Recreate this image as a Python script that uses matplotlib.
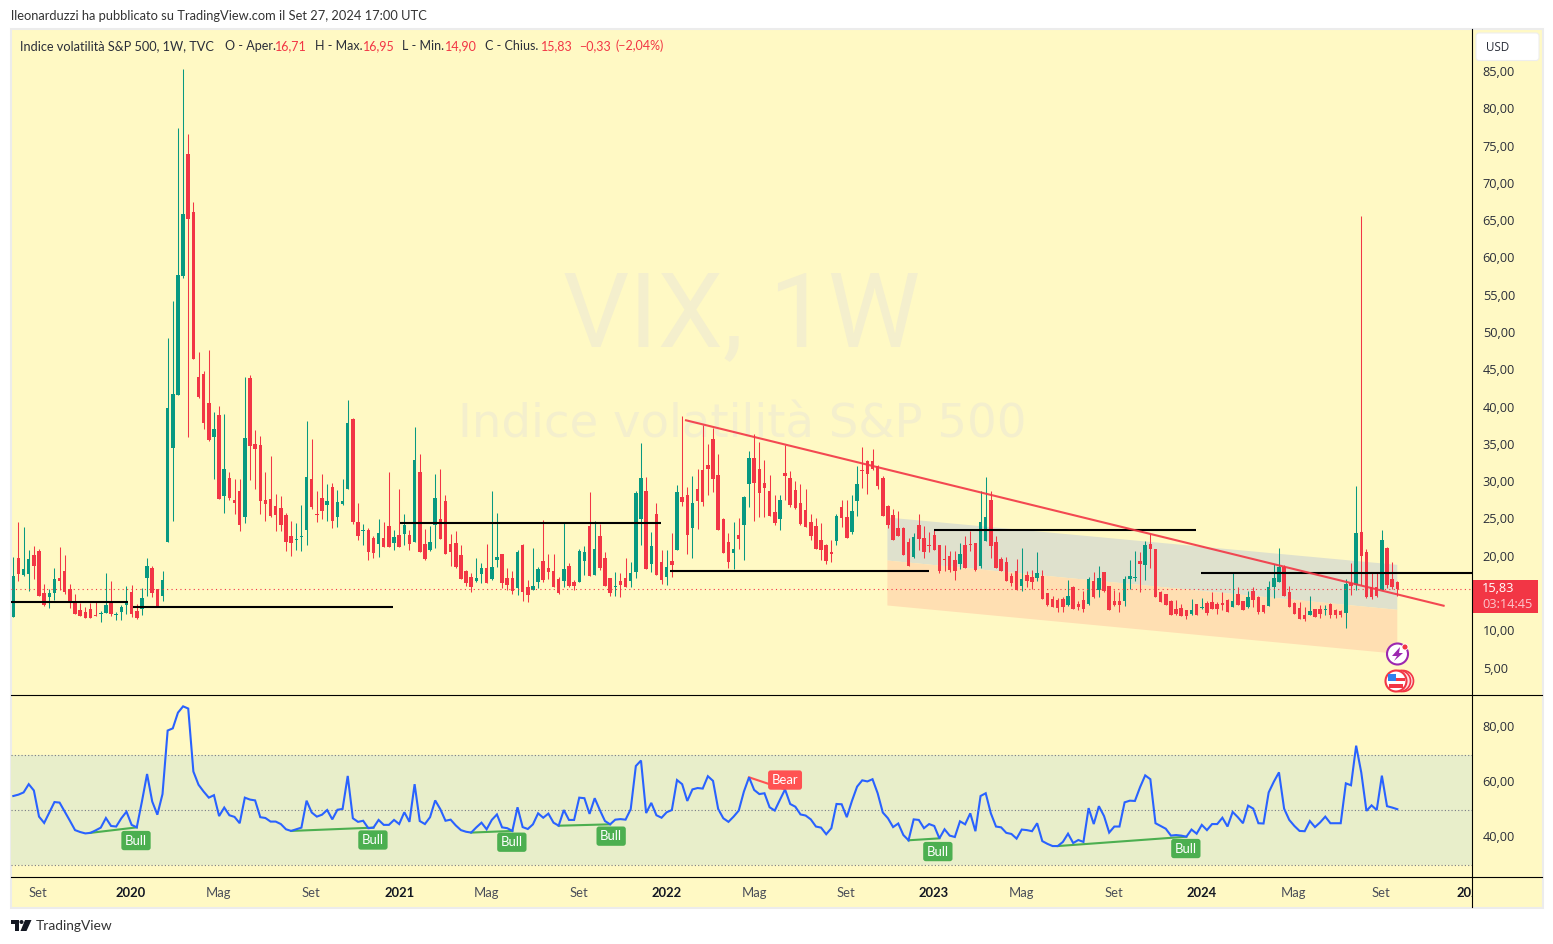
"""VIX weekly chart with RSI pane, TradingView look
values read off the screenshot, axes placed in pixels so it lines up
"""

import numpy as np
import matplotlib
matplotlib.use("Agg")
import matplotlib.pyplot as plt
from matplotlib.patches import Rectangle, Circle, Polygon, FancyBboxPatch
from matplotlib.transforms import ScaledTranslation

W, H = 1553, 944
BG = "#fff9c4"
GREEN = "#089981"
RED = "#f23645"
TXT = "#2a2e39"

plt.rcParams["font.family"] = ["Lato", "DejaVu Sans"]

# weekly candles, oldest first
opens = [11.96, 19.82, 17.54, 17.68, 20.23, 20.76, 15.13, 14.59, 15.13, 17.14,
         18.08, 15.66, 14.06, 12.85, 12.58, 12.98, 12.18, 12.35, 12.45, 14.06,
         12.22, 12.58, 13.52, 15.26, 12.71, 12.98, 17.14, 18.48, 15.66, 14.73,
         21.92, 34.62, 41.68, 57.64, 74.0, 66.23, 44.1, 44.5, 40.61, 36.05,
         38.98, 28.14, 30.55, 27.6, 28.81, 25.32, 43.96, 35.11, 34.98, 27.6,
         27.74, 26.8, 26.53, 25.59, 22.77, 22.24, 22.64, 23.58, 30.42, 25.72,
         27.87, 26.93, 29.35, 25.32, 27.07, 29.08, 38.46, 24.65, 23.45, 23.58,
         22.5, 21.7, 22.5, 24.12, 21.84, 22.91, 23.04, 22.91, 21.97, 31.36,
         21.7, 20.9, 24.25, 25.05, 27.47, 21.7, 21.84, 20.23, 18.08, 17.27,
         16.74, 17.68, 18.48, 17.01, 19.55, 20.36, 17.14, 17.14, 15.8, 21.57,
         15.93, 15.53, 16.6, 19.42, 18.48, 18.08, 17.0, 16.74, 18.75, 16.6,
         16.6, 19.42, 24.11, 17.54, 22.77, 19.82, 17.14, 15.93, 16.74, 17.14,
         16.74, 17.95, 25.05, 28.81, 19.02, 25.72, 19.29, 17.27, 19.42, 20.9,
         28.0, 28.27, 23.85, 29.08, 31.62, 32.29, 35.78, 30.95, 25.05, 21.97,
         20.49, 22.91, 24.25, 29.75, 33.23, 31.76, 29.88, 28.81, 25.99, 25.05,
         31.22, 30.55, 28.94, 27.2, 26.26, 24.65, 24.11, 22.24, 21.57, 20.63,
         22.1, 26.66, 25.32, 23.31, 27.47, 31.62, 32.83, 32.83, 32.16, 30.55,
         26.8, 25.59, 23.85, 23.85, 21.97, 19.96, 24.25, 22.5, 21.57, 22.91,
         21.57, 19.69, 20.09, 19.56, 19.02, 21.57, 21.7, 21.84, 18.75, 22.1,
         27.6, 21.97, 19.69, 19.28, 17.4, 18.08, 16.06, 17.54, 17.27, 17.14,
         17.4, 15.13, 14.32, 14.19, 14.32, 13.52, 15.93, 13.65, 14.19, 13.65,
         16.73, 15.53, 17.94, 16.06, 14.05, 14.05, 14.05, 17.0, 17.14, 19.42,
         18.88, 21.7, 21.03, 15.26, 14.99, 14.05, 12.98, 13.11, 12.85, 12.31,
         13.65, 13.11, 13.79, 13.92, 13.65, 13.79, 14.19, 13.25, 14.99, 14.05,
         13.25, 15.39, 14.59, 13.52, 13.38, 15.93, 16.6, 18.61, 15.26, 13.79,
         13.11, 12.18, 12.18, 12.98, 12.98, 12.85, 13.65, 12.85, 12.71, 12.44,
         16.46, 16.2, 23.3, 20.62, 15.93, 15.93, 15.53, 21.16, 17.0, 16.6]
highs = [19.96, 24.65, 23.98, 20.9, 21.43, 21.03, 16.34, 15.66, 18.48, 21.3,
         20.23, 16.34, 15.0, 13.79, 13.25, 13.79, 14.06, 12.71, 17.81, 16.74,
         12.58, 13.52, 16.07, 16.2, 13.65, 15.8, 19.82, 18.75, 15.66, 18.08,
         49.33, 54.29, 77.49, 85.4, 76.69, 67.57, 47.45, 44.9, 47.72, 39.4,
         40.21, 39.14, 31.36, 30.42, 30.42, 44.1, 44.37, 36.99, 36.19, 31.36,
         33.5, 28.41, 28.14, 25.86, 24.79, 24.52, 26.93, 38.2, 35.78, 28.81,
         31.09, 29.75, 29.88, 28.94, 30.42, 41.0, 38.6, 27.2, 24.38, 23.85,
         22.77, 25.05, 24.65, 31.36, 23.58, 29.08, 25.72, 23.58, 37.39, 33.77,
         23.72, 24.12, 31.09, 31.76, 28.27, 23.04, 23.45, 21.57, 18.21, 17.81,
         19.82, 19.15, 21.7, 28.81, 25.86, 20.36, 18.48, 18.03, 20.9, 21.7,
         16.87, 21.16, 18.62, 24.87, 20.36, 20.36, 17.27, 24.65, 19.15, 16.87,
         21.03, 21.43, 28.67, 24.78, 24.38, 20.63, 17.14, 17.95, 17.81, 19.82,
         19.29, 28.81, 35.24, 30.69, 23.31, 27.2, 20.9, 20.9, 23.17, 29.61,
         38.87, 29.34, 30.82, 31.76, 37.66, 35.11, 37.26, 33.77, 25.19, 23.17,
         24.65, 25.19, 28.14, 34.17, 36.45, 35.38, 32.96, 30.95, 28.27, 28.27,
         34.98, 31.49, 30.15, 29.75, 29.07, 25.72, 25.19, 24.52, 21.7, 22.24,
         25.72, 27.6, 27.6, 28.27, 32.16, 34.71, 32.96, 34.44, 32.29, 30.82,
         26.93, 26.39, 26.13, 23.98, 22.5, 23.18, 25.72, 24.11, 23.31, 23.58,
         21.57, 21.57, 20.76, 20.76, 21.84, 22.77, 23.44, 21.84, 28.8, 30.69,
         28.8, 22.77, 19.91, 19.91, 17.81, 19.64, 21.16, 18.08, 18.21, 20.62,
         18.21, 15.13, 14.72, 14.46, 14.59, 16.87, 16.06, 14.05, 15.39, 17.27,
         17.94, 18.75, 17.94, 16.06, 15.53, 15.26, 17.4, 19.55, 20.76, 20.62,
         22.1, 23.04, 21.03, 15.39, 14.99, 14.19, 14.19, 13.65, 12.85, 14.32,
         13.65, 14.46, 14.05, 15.26, 13.92, 15.26, 14.32, 17.81, 15.93, 14.05,
         15.39, 15.93, 14.72, 13.52, 16.73, 19.01, 21.16, 18.88, 16.06, 13.92,
         13.92, 13.25, 14.72, 12.98, 13.52, 13.52, 13.79, 12.98, 12.85, 17.0,
         19.15, 29.47, 65.7, 21.03, 17.94, 17.81, 23.57, 21.3, 19.28, 16.75]
lows = [11.96, 16.78, 17.41, 15.4, 17.01, 14.73, 13.39, 13.12, 14.19, 15.53,
        15.0, 13.12, 12.31, 12.05, 11.78, 11.78, 12.05, 11.24, 12.45, 12.05,
        11.51, 11.51, 12.31, 11.91, 11.64, 12.18, 14.73, 14.59, 13.25, 14.06,
        21.9, 24.79, 41.68, 57.37, 36.05, 46.51, 41.28, 37.12, 35.52, 30.42,
        27.74, 25.86, 27.6, 25.73, 23.45, 24.52, 30.28, 29.08, 25.73, 24.79,
        25.32, 23.45, 23.45, 20.76, 20.09, 20.9, 20.76, 21.57, 26.39, 24.65,
        25.05, 24.79, 23.85, 23.98, 26.93, 29.08, 24.38, 22.24, 21.57, 19.56,
        19.83, 19.96, 21.3, 21.3, 20.9, 21.3, 21.57, 20.9, 21.97, 20.63,
        19.56, 20.76, 21.16, 22.37, 20.36, 18.75, 18.48, 17.01, 16.07, 15.26,
        16.6, 16.47, 16.47, 16.87, 18.62, 15.8, 15.53, 15.0, 14.86, 14.06,
        13.92, 15.53, 15.8, 16.6, 17.0, 15.93, 15.0, 15.93, 15.93, 15.53,
        16.6, 17.54, 17.41, 17.54, 18.21, 16.07, 14.73, 14.73, 14.59, 15.93,
        15.93, 17.14, 21.57, 18.35, 17.95, 17.54, 16.34, 16.2, 17.27, 20.9,
        26.8, 20.36, 19.82, 23.71, 26.8, 28.27, 28.67, 23.58, 20.49, 18.48,
        18.35, 21.03, 19.55, 26.66, 24.78, 25.37, 25.32, 25.46, 24.25, 23.58,
        27.6, 26.66, 26.39, 24.25, 23.98, 22.24, 21.03, 19.55, 19.02, 19.29,
        21.57, 23.98, 22.5, 23.04, 25.46, 29.21, 28.4, 31.62, 29.08, 25.46,
        23.85, 22.24, 22.77, 20.22, 18.75, 19.82, 20.9, 19.82, 20.63, 20.9,
        17.81, 18.08, 17.94, 16.87, 18.35, 18.48, 20.76, 18.08, 18.48, 22.1,
        19.82, 18.48, 18.08, 16.73, 16.06, 15.53, 15.39, 15.97, 15.66, 16.73,
        14.32, 13.38, 13.25, 12.58, 12.58, 13.38, 12.98, 12.85, 12.58, 13.52,
        14.46, 14.59, 15.26, 12.85, 13.38, 12.58, 13.38, 15.66, 16.73, 15.26,
        16.87, 18.48, 14.59, 13.92, 13.52, 12.18, 12.18, 12.04, 11.64, 12.18,
        12.18, 12.98, 12.18, 12.98, 12.31, 12.85, 12.58, 13.25, 13.52, 12.85,
        13.11, 13.25, 12.31, 12.44, 13.38, 14.46, 16.6, 14.72, 13.25, 12.31,
        11.64, 11.37, 12.18, 11.91, 11.77, 12.18, 11.77, 11.77, 11.91, 10.43,
        14.86, 15.53, 16.2, 14.46, 14.32, 14.59, 15.53, 15.8, 15.66, 14.75]
closes = [17.41, 17.68, 18.35, 19.69, 18.75, 14.73, 13.52, 15.13, 17.01, 16.74,
          15.26, 13.79, 12.31, 12.05, 11.78, 11.78, 12.05, 12.49, 13.52, 12.31,
          12.36, 13.25, 13.92, 12.31, 11.78, 14.46, 18.75, 15.13, 13.25, 16.87,
          39.94, 41.82, 57.78, 65.96, 65.29, 46.51, 41.42, 37.93, 35.65, 37.12,
          27.74, 31.76, 27.87, 27.2, 24.25, 35.92, 34.84, 34.44, 27.47, 27.07,
          25.46, 25.59, 24.25, 21.97, 21.84, 22.37, 22.77, 30.69, 26.66, 25.59,
          26.13, 27.47, 24.79, 27.33, 27.47, 37.93, 24.65, 22.77, 23.58, 20.63,
          20.5, 23.18, 21.3, 21.3, 22.64, 21.3, 24.25, 21.7, 32.97, 20.63,
          19.69, 21.97, 27.87, 22.37, 20.36, 20.63, 18.62, 17.01, 16.47, 15.93,
          17.14, 18.48, 16.47, 18.62, 19.96, 16.47, 16.2, 15.4, 20.63, 15.26,
          14.86, 16.07, 18.35, 16.87, 17.95, 15.93, 15.13, 18.35, 16.07, 16.07,
          20.76, 20.63, 17.41, 21.03, 18.48, 16.07, 15.13, 16.07, 16.2, 15.93,
          17.81, 28.54, 30.55, 18.35, 21.43, 17.54, 16.87, 18.62, 18.88, 28.67,
          27.33, 22.91, 27.2, 27.47, 27.33, 31.76, 30.42, 23.58, 20.49, 19.29,
          21.03, 22.37, 28.0, 33.23, 29.88, 28.54, 29.21, 25.46, 24.52, 27.6,
          30.82, 26.93, 26.53, 24.38, 23.98, 22.77, 21.03, 20.9, 19.42, 20.4,
          25.46, 25.19, 22.5, 26.13, 29.75, 31.49, 31.09, 31.76, 29.48, 25.46,
          24.25, 22.24, 22.77, 20.22, 18.75, 22.64, 22.37, 20.63, 21.43, 20.9,
          18.08, 19.56, 18.21, 18.08, 20.36, 18.48, 21.57, 18.21, 24.65, 25.32,
          21.43, 18.48, 18.08, 16.73, 16.46, 15.53, 17.0, 16.73, 16.6, 17.81,
          14.32, 13.52, 13.25, 13.11, 13.25, 14.72, 12.98, 13.25, 12.98, 17.0,
          14.59, 17.14, 15.39, 12.85, 13.52, 13.52, 17.0, 17.4, 17.27, 19.01,
          21.56, 21.03, 14.59, 13.92, 13.52, 12.18, 12.31, 12.04, 12.04, 12.85,
          12.18, 13.25, 12.44, 12.98, 12.98, 13.52, 12.58, 14.05, 13.52, 12.85,
          14.59, 14.19, 12.58, 12.58, 15.93, 17.14, 18.61, 14.72, 13.25, 12.31,
          11.64, 11.64, 12.71, 11.91, 12.31, 12.98, 12.18, 12.18, 12.18, 16.33,
          16.06, 23.17, 20.09, 14.59, 14.59, 14.72, 22.23, 16.2, 15.93, 15.62]

# RSI, same weeks as the candles
rsi = [55.2, 55.7, 56.5, 59.5, 57.2, 47.7, 45.4, 49.2, 53.0, 52.8,
       49.5, 46.2, 42.8, 42.1, 41.6, 41.8, 42.7, 43.7, 47.2, 44.3,
       44.1, 47.1, 49.5, 44.7, 43.8, 53.2, 63.2, 53.2, 48.4, 55.9,
       79.0, 79.8, 85.5, 87.8, 87.0, 64.1, 59.3, 56.8, 54.6, 55.5,
       47.9, 51.0, 48.2, 47.6, 45.3, 54.6, 53.9, 53.6, 47.5, 47.2,
       45.9, 45.9, 45.0, 43.1, 42.5, 43.1, 43.7, 53.5, 49.2, 47.7,
       48.4, 50.1, 46.7, 50.2, 50.5, 62.5, 47.1, 45.8, 46.2, 43.5,
       43.7, 46.5, 44.7, 44.7, 46.5, 45.0, 49.3, 45.8, 59.5, 46.1,
       45.0, 47.5, 53.6, 50.4, 46.2, 46.6, 44.5, 42.8, 42.2, 41.9,
       43.8, 45.5, 43.1, 46.5, 48.5, 43.8, 43.5, 42.5, 51.1, 43.9,
       43.2, 44.9, 48.9, 47.3, 48.8, 45.5, 44.4, 50.1, 46.5, 46.5,
       54.6, 54.4, 48.7, 54.4, 50.1, 46.1, 44.9, 46.6, 46.8, 46.6,
       50.4, 66.1, 68.1, 49.0, 52.7, 48.2, 47.3, 49.3, 50.1, 61.0,
       59.5, 53.4, 57.6, 58.1, 57.9, 62.4, 60.7, 50.5, 47.1, 45.8,
       47.7, 49.9, 56.8, 62.0, 57.4,
       55.9, 56.2, 51.1, 49.9, 53.8, 57.6, 52.3, 51.3, 48.5, 48.1,
       46.7, 44.1, 43.7, 41.3, 43.5, 52.3, 52.2, 47.5, 53.4, 58.6,
       60.9, 60.5, 61.3, 56.2, 49.2, 47.1, 43.9, 45.2, 41.0, 39.1,
       46.7, 46.5, 43.5, 45.0, 44.3, 39.8, 43.1, 40.8, 40.3, 46.0,
       44.9, 48.9, 42.4, 55.2, 56.2, 48.9, 44.1, 43.8, 41.8, 41.4,
       39.7, 43.0, 42.8, 42.4, 45.3, 38.8, 37.8, 37.0, 37.0, 38.5,
       41.5, 38.1, 39.2, 38.5, 50.8, 45.0, 51.5, 47.9, 41.9, 44.1,
       44.1, 52.9, 53.5, 53.4, 58.4, 62.7, 61.3, 45.3, 44.3, 43.3,
       40.8, 41.0, 40.8, 40.4, 43.0, 41.5, 44.7, 42.8, 45.0, 45.0,
       47.3, 44.1, 49.4, 47.5, 45.3, 51.7, 50.6, 45.3, 45.2, 56.5,
       60.4, 63.8, 50.6, 46.5, 44.3, 42.5, 42.4, 46.1, 43.9, 45.6,
       47.7, 45.3, 45.3, 45.3, 59.8, 59.1, 73.5, 63.7, 49.8, 51.8,
       50.1, 62.6, 51.5, 51.0, 50.4]

price_ticks = [5, 10, 20, 25, 30, 35, 40, 45, 50, 55, 60, 65, 70, 75, 80, 85]
rsi_ticks = [40, 60, 80]
time_pos = [4.8, 22.9, 39.8, 57.9, 75, 91.9, 110, 126.9, 144, 161.9, 178.9, 195.9,
            213.9, 231, 248.9, 265.9, 283.5]
time_lab = ["Set", "2020", "Mag", "Set", "2021", "Mag", "Set", "2022", "Mag", "Set",
            "2023", "Mag", "Set", "2024", "Mag", "Set", "2025"]

# drawn objects: (week start, week end, price)
black_lines = [(-0.4, 22.2, 13.96), (23.3, 73.8, 13.25), (75.2, 125.9, 24.5),
               (127.6, 178, 18.08), (179, 229.9, 23.58), (230.8, 283.6, 17.81)]
trend_x = [130.75, 278.0]
trend_y = [38.29, 13.42]
chan_x = [169.8, 268.9]
chan_top = [25.32, 18.97]
chan_mid = [19.55, 12.94]
chan_bot = [13.52, 7.04]
last_price = 15.62

# RSI divergences: from week, to week, tag week, tag value
bull_tags = [(15, 24, 23.85, 39.0), (54, 70, 69.9, 39.2), (89, 97, 96.9, 38.4),
             (106, 116, 116.2, 40.6), (174, 180, 179.7, 35.0), (203, 228, 227.9, 36.1)]
bear_tag = (143, 150, 150.0, 61.0)


def pane(x0, y0, x1, y1):
    # axes from pixel box, y from the top of the picture
    return fig.add_axes([x0 / W, 1 - y1 / H, (x1 - x0) / W, (y1 - y0) / H])


def lift_labels(a, px):
    # tradingview draws the axis numbers a bit above their level
    off = ScaledTranslation(0, px / 100, fig.dpi_scale_trans)
    for t in a.yaxis.get_major_ticks():
        t.label2.set_transform(t.label2.get_transform() + off)


fig = plt.figure(figsize=(W / 100, H / 100), dpi=100, facecolor="white")

back = pane(0, 0, W, H)
back.set_xlim(0, W)
back.set_ylim(H, 0)
back.axis("off")
back.add_patch(Rectangle((10.5, 28.5), 1532, 879, fc=BG, ec="#ececec", lw=1.5))

ax = pane(11, 29, 1473, 695)
ax2 = pane(11, 696, 1473, 877)
ax3 = pane(11, 877, 1473, 907)
xlim = ((11 - 13.3) / 5.145, (1473 - 13.3) / 5.145)
for a in (ax, ax2, ax3):
    a.set_facecolor("none")
    a.set_xlim(*xlim)
    for s in a.spines.values():
        s.set_visible(False)
    a.set_xticks([])
ax.set_ylim(1.446, 90.77)
ax2.set_ylim(25.75, 91.56)
ax3.set_ylim(0, 1)
ax3.set_yticks([])

# price pane
x = np.arange(len(opens))
o, h, l, c = map(np.array, (opens, highs, lows, closes))
cols = np.where(c >= o, GREEN, RED)
ax.text(0.5, 0.566, "VIX, 1W", transform=ax.transAxes, ha="center", va="center",
        fontsize=75, color="#f4efcd", family="Roboto", zorder=1)
ax.text(0.5, 0.405, "Indice volatilità S&P 500", transform=ax.transAxes, ha="center", va="center",
        fontsize=33.5, color="#f4efcd", family="DejaVu Sans", zorder=1)
ax.fill_between(chan_x, chan_mid, chan_top, color="#dfe1cd", lw=0, zorder=2)
ax.fill_between(chan_x, chan_bot, chan_mid, color="#ffdfb2", lw=0, zorder=2)
ax.vlines(x, l, h, colors=cols, lw=0.75, zorder=3)
body = np.maximum(np.abs(c - o), 0.13)
ax.bar(x, body, bottom=np.minimum(o, c), width=0.68, color=cols, lw=0, zorder=3)
ax.axhline(last_price, color=RED, lw=0.8, ls=(0, (1, 3)), zorder=4)
for x0, x1, y in black_lines:
    ax.plot([x0, x1], [y, y], color="black", lw=1.5, solid_capstyle="butt", zorder=5)
ax.plot(trend_x, trend_y, color=RED, lw=1.5, alpha=0.9, zorder=6)
ax.yaxis.tick_right()
ax.set_yticks(price_ticks)
ax.set_yticklabels([f"{t},00" for t in price_ticks], family="Open Sans")
ax.tick_params(axis="y", length=0, pad=7, labelsize=9.2, labelcolor=TXT)
lift_labels(ax, 1)

# rsi pane
ax2.axhspan(30, 70, color="#e8eeca", lw=0, zorder=1)
for lev in (30, 50, 70):
    ax2.axhline(lev, color="#787b86", lw=0.8, ls=(0, (1, 2)), zorder=2)
ax2.plot(x, rsi, color="#2962ff", lw=1.5, zorder=4, solid_joinstyle="miter")
for i0, i1, tx, ty in bull_tags:
    ax2.plot([i0, i1], [rsi[i0], rsi[i1]], color="#4caf50", lw=1.5, zorder=3)
    ax2.text(tx, ty, "Bull", color="white", fontsize=9.4, ha="center", va="center", zorder=6,
             bbox=dict(boxstyle="round,pad=0.28,rounding_size=0.2", fc="#4caf50", ec="none"))
ax2.plot([bear_tag[0], bear_tag[1]], [rsi[bear_tag[0]], rsi[bear_tag[1]]], color="#ff5252", lw=1.5, zorder=3)
ax2.text(bear_tag[2], bear_tag[3], "Bear", color="white", fontsize=9.4, ha="center", va="center", zorder=6,
         bbox=dict(boxstyle="round,pad=0.28,rounding_size=0.2", fc="#ff5252", ec="none"))
ax2.yaxis.tick_right()
ax2.set_yticks(rsi_ticks)
ax2.set_yticklabels([f"{t},00" for t in rsi_ticks], family="Open Sans")
ax2.tick_params(axis="y", length=0, pad=7, labelsize=9.2, labelcolor=TXT)
lift_labels(ax2, 2)

# time axis
for p, lab in zip(time_pos, time_lab):
    year = lab.isdigit()
    ax3.text(p, 0.47, lab, ha="center", va="center", fontsize=9.4, clip_on=True,
             color="#131722" if year else "#4a4e59", fontweight="bold" if year else "normal")

# everything that sits on top, in picture pixels
deco = pane(0, 0, W, H)
deco.set_xlim(0, W)
deco.set_ylim(H, 0)
deco.axis("off")

for y in (695.0, 877.0):
    deco.plot([11, 1542], [y, y], color="black", lw=0.8, zorder=9)
deco.plot([1472.3, 1472.3], [29, 907], color="black", lw=0.8, zorder=9)

# header
deco.text(11, 16, "lleonarduzzi ha pubblicato su TradingView.com il Set 27, 2024 17:00 UTC",
          fontsize=9.3, color="#333333", va="center")
head = [(20, "Indice volatilità S&P 500, 1W, TVC", TXT, 9.2), (225, "O - Aper.", TXT, 9), (275, "16,71", RED, 9),
        (315, "H - Max.", TXT, 9), (363, "16,95", RED, 9), (402, "L - Min.", TXT, 9), (445, "14,90", RED, 9),
        (485, "C - Chius.", TXT, 9), (541, "15,83", RED, 9), (579, "−0,33", RED, 9), (616, "(−2,04%)", RED, 9)]
for hx, s, col, fs in head:
    deco.text(hx, 46, s, fontsize=fs, color=col, va="center")

# usd box and price tag
deco.add_patch(FancyBboxPatch((1476, 33), 63, 27.5, boxstyle="round,pad=0,rounding_size=3", fc="white", ec="#eeeeee", lw=0.8))
deco.text(1486, 47.5, "USD", fontsize=8.4, color=TXT, va="center", family="Open Sans")
deco.add_patch(Rectangle((1473, 580), 65, 33, fc=RED, ec="none", zorder=8))
deco.text(1482, 589, "15,83", fontsize=9.2, color="white", va="center", zorder=10, family="Open Sans")
deco.text(1482, 604, "03:14:45", fontsize=9.2, color="#fbc7cc", va="center", zorder=10, family="Open Sans")

# event icons
deco.add_patch(Circle((1397.5, 654), 10.5, fc="white", ec="#9c27b0", lw=1.5, zorder=10))
deco.add_patch(Polygon([(1400, 647), (1392, 656), (1397, 656), (1394, 661), (1403, 653), (1399, 653)], fc="#9c27b0", ec="none", zorder=11))
deco.add_patch(Circle((1405, 647), 3, fc=RED, ec="white", lw=0.6, zorder=12))
for cx in (1403, 1400):
    deco.add_patch(Circle((cx, 681), 10.5, fc="#fde0e2", ec=RED, lw=1.2, zorder=10))
deco.add_patch(Circle((1396, 681), 10.5, fc="white", ec=RED, lw=1.5, zorder=10))
deco.add_patch(Rectangle((1389, 684), 14, 4, fc=RED, ec="none", zorder=11))
deco.add_patch(Rectangle((1396, 678), 9, 3, fc=RED, ec="none", zorder=11))
deco.add_patch(Rectangle((1388, 674), 8, 7, fc="#2f80ed", ec="none", zorder=11))

# logo
deco.add_patch(Polygon([(11, 920), (19, 920), (19, 931), (15, 931), (15, 924), (11, 924)], fc="#131722", ec="none"))
deco.add_patch(Circle((21.5, 922), 2, fc="#131722", ec="none"))
deco.add_patch(Polygon([(25, 920), (31.5, 920), (26.5, 931), (20.5, 931)], fc="#131722", ec="none"))
deco.text(36, 926, "TradingView", fontsize=9.9, color="#333333", va="center")

fig.savefig("out.png", dpi=100)
